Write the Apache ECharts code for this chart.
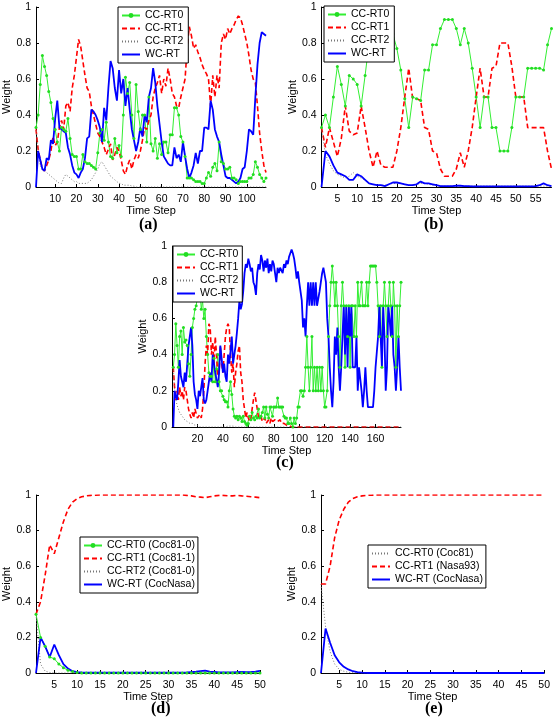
<!DOCTYPE html>
<html><head><meta charset="utf-8">
<script src="https://cdn.jsdelivr.net/npm/echarts@6/dist/echarts.min.js"></script>
<style>html,body{margin:0;padding:0;background:#fff}#c{width:553px;height:718px}</style>
</head><body><div id="c"></div>
<script>
// ---------- Panel (a) ----------
const aTicks = [10,20,30,40,50,60,70,80,90,100];
const aRT0 = [0.33,0.40,0.57,0.73,0.67,0.62,0.53,0.47,0.38,0.32,
 0.25,0.20,0.33,0.32,0.31,0.38,0.27,0.18,0.17,0.17,
 0.10,0.10,0.18,0.14,0.13,0.13,0.12,0.11,0.10,0.19,
 0.30,0.32,0.26,0.36,0.25,0.17,0.16,0.27,0.19,0.23,
 0.17,0.40,0.61,0.52,0.58,0.40,0.27,0.57,0.42,0.32,
 0.40,0.40,0.25,0.50,0.24,0.20,0.27,0.16,0.24,0.18,
 0.25,0.25,0.19,0.29,0.29,0.44,0.44,0.40,0.28,0.25,
 0.17,0.05,0.05,0.05,0.04,0.03,0.03,0.03,0.02,0.02,
 0.05,0.08,0.06,0.11,0.13,0.09,0.25,0.14,0.13,0.10,
 0.10,0.11,0.05,0.05,0.04,0.02,0.03,0.03,0.03,0.03,
 0.05,0.05,0.07,0.14,0.11,0.07,0.05,0.03,0.05];
const aRT1 = [0.32,0.21,0.15,0.10,0.09,0.12,0.15,0.20,0.28,0.23,
 0.25,0.33,0.37,0.32,0.45,0.47,0.42,0.55,0.62,0.72,
 0.82,0.78,0.70,0.62,0.55,0.53,0.45,0.40,0.35,0.30,
 0.28,0.25,0.22,0.18,0.21,0.24,0.15,0.18,0.22,0.20,
 0.15,0.09,0.07,0.12,0.15,0.10,0.15,0.18,0.16,0.20,
 0.26,0.33,0.32,0.37,0.40,0.50,0.55,0.58,0.62,0.52,
 0.60,0.56,0.66,0.60,0.52,0.50,0.45,0.44,0.50,0.55,
 0.60,0.78,0.89,0.84,0.77,0.79,0.75,0.72,0.68,0.65,
 0.63,0.60,0.45,0.62,0.50,0.62,0.55,0.80,0.85,0.82,
 0.88,0.85,0.88,0.90,0.93,0.95,0.94,0.90,0.85,0.80,
 0.73,0.65,0.60,0.58,0.45,0.30,0.20,0.12,0.08];
const aRT2 = [0.33,0.20,0.12,0.10,0.09,0.08,0.07,0.06,0.05,0.04,
 0.03,0.02,0.02,0.05,0.07,0.06,0.05,0.04,0.03,0.03,
 0.02,0.02,0.02,0.02,0.02,0.03,0.04,0.06,0.08,0.10,
 0.13,0.14,0.12,0.10,0.08,0.06,0.05,0.04,0.03,0.02,
 0.02,0.01,0.01,0.01,0.01,0.005,0.005,0,0,0,
 0,0,0,0,0,0,0,0,0,0,
 0,0,0,0,0,0,0,0,0,0,
 0,0,0,0,0,0,0,0,0,0,
 0,0,0,0,0,0,0,0,0,0,
 0,0,0,0,0,0,0,0,0,0,
 0,0,0,0,0,0,0,0,0];
const aWC = [0.00,0.20,0.15,0.10,0.09,0.16,0.15,0.26,0.24,0.38,
 0.48,0.33,0.32,0.31,0.30,0.22,0.18,0.12,0.08,0.07,
 0.05,0.08,0.10,0.16,0.27,0.28,0.43,0.42,0.40,0.37,
 0.33,0.25,0.44,0.37,0.55,0.70,0.66,0.55,0.48,0.65,
 0.52,0.60,0.45,0.55,0.43,0.32,0.26,0.20,0.25,0.33,
 0.28,0.40,0.36,0.50,0.55,0.66,0.58,0.45,0.35,0.25,
 0.17,0.15,0.13,0.12,0.12,0.22,0.16,0.18,0.14,0.25,
 0.17,0.10,0.05,0.08,0.12,0.19,0.13,0.20,0.20,0.33,
 0.33,0.32,0.48,0.43,0.32,0.28,0.25,0.18,0.12,0.06,
 0.05,0.05,0.04,0.03,0.02,0.03,0.05,0.10,0.11,0.20,
 0.32,0.31,0.29,0.50,0.68,0.80,0.86,0.85,0.84];

// ---------- Panel (b) ----------
const bTicks = [5,10,15,20,25,30,35,40,45,50,55];
const bRT0 = [0.33,0.40,0.33,0.50,0.67,0.57,0.45,0.62,0.60,0.57,
 0.45,0.62,0.80,0.84,0.86,0.87,0.87,0.86,0.85,0.77,
 0.65,0.49,0.33,0.50,0.49,0.48,0.65,0.65,0.79,0.79,
 0.88,0.93,0.93,0.93,0.88,0.79,0.88,0.80,0.66,0.50,
 0.33,0.50,0.50,0.33,0.33,0.20,0.20,0.20,0.33,0.50,
 0.50,0.50,0.66,0.66,0.66,0.66,0.65,0.79,0.88];
const bRT1 = [0.33,0.22,0.33,0.25,0.17,0.27,0.45,0.31,0.29,0.30,
 0.45,0.33,0.20,0.11,0.20,0.12,0.11,0.11,0.11,0.20,
 0.33,0.50,0.66,0.49,0.49,0.48,0.33,0.32,0.20,0.19,
 0.10,0.06,0.06,0.06,0.10,0.19,0.11,0.20,0.33,0.50,
 0.66,0.50,0.50,0.66,0.67,0.80,0.80,0.80,0.67,0.50,
 0.50,0.50,0.33,0.33,0.33,0.33,0.33,0.20,0.10];
const bRT2 = [0.33,0.18,0.13,0.09,0.07,0.06,0.05,0.06,0.08,0.06,
 0.05,0.04,0.02,0.015,0.01,0.01,0.01,0.015,0.02,0.02,
 0.02,0.015,0.01,0.01,0.015,0.02,0.02,0.015,0.01,0.01,
 0.005,0.005,0.005,0.005,0.005,0.005,0.005,0.005,0.005,0.005,
 0.005,0.005,0.005,0.005,0.005,0.005,0.005,0.005,0.005,0.005,
 0.005,0.005,0.005,0.005,0.005,0.005,0.005,0.005,0.005];
const bWC = [0.00,0.20,0.17,0.12,0.08,0.07,0.06,0.04,0.04,0.07,
 0.06,0.04,0.02,0.015,0.01,0.01,0.005,0.015,0.025,0.025,
 0.02,0.015,0.01,0.01,0.015,0.03,0.02,0.02,0.015,0.01,
 0.005,0.005,0.005,0.005,0.007,0.007,0.005,0.005,0.004,0.004,
 0.003,0.003,0.003,0.003,0.003,0.003,0.003,0.003,0.003,0.003,
 0.003,0.003,0.003,0.003,0.005,0.01,0.02,0.01,0.005];

// ---------- Panel (c) ----------
const cTicks = [20,40,60,80,100,120,140,160];
const cRT0 = [0.33,0.40,0.57,0.45,0.33,0.50,0.53,0.40,0.55,0.47,
 0.48,0.45,0.35,0.28,0.40,0.55,0.60,0.65,0.67,0.72,
 0.80,0.75,0.65,0.70,0.60,0.65,0.50,0.40,0.30,0.28,
 0.28,0.25,0.38,0.25,0.32,0.40,0.25,0.20,0.20,0.17,
 0.15,0.14,0.14,0.11,0.20,0.25,0.18,0.10,0.06,0.05,
 0.06,0.04,0.06,0.05,0.03,0.06,0.03,0.02,0.01,0.02,
 0.06,0.04,0.08,0.05,0.04,0.06,0.05,0.10,0.05,0.06,
 0.08,0.11,0.05,0.11,0.07,0.05,0.11,0.11,0.06,0.11,
 0.11,0.11,0.16,0.11,0.11,0.11,0.11,0.06,0.05,0.05,
 0.02,0.02,0.05,0.02,0.00,0.05,0.02,0.05,0.11,0.11,
 0.20,0.20,0.17,0.20,0.33,0.50,0.33,0.20,0.33,0.50,
 0.20,0.33,0.20,0.33,0.20,0.33,0.20,0.33,0.20,0.11,
 0.11,0.20,0.50,0.67,0.80,0.89,0.80,0.67,0.80,0.67,
 0.50,0.33,0.67,0.80,0.67,0.33,0.67,0.50,0.67,0.33,
 0.67,0.67,0.50,0.67,0.50,0.80,0.67,0.67,0.80,0.67,
 0.67,0.67,0.80,0.67,0.80,0.89,0.89,0.89,0.89,0.89,
 0.80,0.67,0.50,0.67,0.33,0.67,0.80,0.67,0.50,0.67,
 0.80,0.67,0.50,0.80,0.67,0.33,0.67,0.50,0.67,0.80];
const cRT1 = [0.33,0.22,0.15,0.20,0.15,0.22,0.17,0.20,0.15,0.22,
 0.20,0.15,0.10,0.07,0.05,0.08,0.05,0.10,0.09,0.05,
 0.05,0.07,0.05,0.10,0.20,0.35,0.45,0.40,0.57,0.55,
 0.40,0.47,0.35,0.50,0.40,0.28,0.30,0.45,0.35,0.30,
 0.40,0.50,0.55,0.57,0.55,0.40,0.30,0.35,0.22,0.30,
 0.35,0.42,0.45,0.30,0.25,0.15,0.10,0.05,0.08,0.05,
 0.03,0.05,0.10,0.15,0.19,0.18,0.10,0.05,0.04,0.06,
 0.03,0.04,0.05,0.02,0.03,0.04,0.02,0.05,0.03,0.02,
 0.04,0.05,0.03,0.02,0.04,0.02,0.01,0.02,0.01,0.01,
 0,0.01,0,0,0,0,0,0,0,0,
 0,0,0,0,0,0,0,0,0,0,
 0,0,0,0,0,0,0,0,0,0,
 0,0,0,0,0,0,0,0,0,0,
 0,0,0,0,0,0,0,0,0,0,
 0,0,0,0,0,0,0,0,0,0,
 0,0,0,0,0,0,0,0,0,0,
 0,0,0,0,0,0,0,0,0,0,
 0,0,0,0,0,0,0,0,0,0];
const cRT2 = [0.33,0.20,0.15,0.12,0.10,0.08,0.07,0.06,0.05,0.04,
 0.04,0.03,0.03,0.02,0.02,0.02,0.01,0.01,0.01,0.01,
 0.005,0,0,0,0,0,0,0,0,0,
 0,0,0,0,0,0,0,0,0,0,
 0,0,0,0.005,0.005,0.005,0.005,0.005,0,0,
 0,0,0,0,0,0,0,0,0,0,
 0,0,0,0,0,0,0,0,0,0,
 0,0,0,0,0,0,0,0,0,0,
 0,0,0,0,0,0,0,0,0,0,
 0,0,0,0,0,0,0,0,0,0,
 0,0,0,0,0,0,0,0,0,0,
 0,0,0,0,0,0,0,0,0,0,
 0,0,0,0,0,0,0,0,0,0,
 0,0,0,0,0,0,0,0,0,0,
 0,0,0,0,0,0,0,0,0,0,
 0,0,0,0,0,0,0,0,0,0,
 0,0,0,0,0,0,0,0,0,0,
 0,0,0,0,0,0,0,0,0,0];
const cWC = [0.00,0.20,0.17,0.15,0.25,0.37,0.28,0.25,0.22,0.30,
 0.25,0.35,0.45,0.50,0.55,0.45,0.25,0.18,0.15,0.10,
 0.20,0.17,0.22,0.27,0.15,0.13,0.15,0.20,0.25,0.30,
 0.25,0.40,0.35,0.30,0.26,0.22,0.30,0.45,0.38,0.30,
 0.35,0.28,0.25,0.40,0.35,0.42,0.50,0.35,0.40,0.45,
 0.52,0.60,0.70,0.65,0.68,0.75,0.85,0.90,0.88,0.93,
 0.90,0.86,0.88,0.80,0.78,0.73,0.85,0.90,0.87,0.95,
 0.92,0.86,0.92,0.88,0.93,0.85,0.90,0.86,0.92,0.90,
 0.85,0.80,0.88,0.85,0.88,0.88,0.85,0.90,0.88,0.92,
 0.90,0.94,0.96,0.98,0.96,0.93,0.88,0.82,0.86,0.80,
 0.80,0.70,0.55,0.60,0.50,0.67,0.80,0.67,0.80,0.67,
 0.80,0.67,0.80,0.67,0.67,0.75,0.80,0.85,0.88,0.88,
 0.80,0.60,0.50,0.33,0.20,0.11,0.25,0.50,0.40,0.55,
 0.33,0.20,0.33,0.50,0.67,0.40,0.67,0.33,0.67,0.50,
 0.67,0.33,0.33,0.33,0.50,0.20,0.33,0.33,0.20,0.11,
 0.20,0.33,0.20,0.11,0.11,0.11,0.11,0.11,0.20,0.33,
 0.33,0.50,0.67,0.50,0.33,0.67,0.50,0.20,0.33,0.67,
 0.60,0.50,0.67,0.40,0.33,0.20,0.33,0.50,0.33,0.20];

// ---------- Panel (d) ----------
const dTicks = [5,10,15,20,25,30,35,40,45,50];
const dRT0 = [0.33,0.20,0.15,0.09,0.08,0.05,0.03,0.015,0.008,0.003,
 0,0,0,0,0,0,0,0,0,0,
 0,0,0,0,0,0,0,0,0,0,
 0,0,0,0,0,0,0,0,0,0,
 0,0,0,0,0,0,0,0,0,0];
const dRT1 = [0.33,0.40,0.55,0.72,0.67,0.76,0.85,0.92,0.96,0.98,
 0.99,0.995,0.998,0.999,1,1,1,1,1,1,
 1,1,1,1,1,1,1,1,1,1,
 1,1,1,0.998,0.995,0.99,0.988,0.985,0.99,0.995,
 0.998,0.998,0.995,0.995,0.998,0.995,0.993,0.99,0.988,0.985];
const dRT2 = [0.33,0.05,0.01,0.003,0,0,0,0,0,0,
 0,0,0,0,0,0,0,0,0,0,
 0,0,0,0,0,0,0,0,0,0,
 0,0,0,0,0,0,0,0,0,0,
 0,0,0,0,0,0,0,0,0,0];
const dWC = [0,0.20,0.15,0.09,0.16,0.10,0.05,0.025,0.01,0.005,
 0.003,0.002,0.002,0.002,0.002,0.002,0.002,0.002,0.002,0.002,
 0.002,0.002,0.002,0.002,0.002,0.002,0.002,0.002,0.002,0.002,
 0.002,0.002,0.002,0.003,0.005,0.007,0.01,0.013,0.008,0.006,
 0.004,0.003,0.003,0.004,0.005,0.006,0.005,0.006,0.008,0.012];

// ---------- Panel (e) ----------
const eTicks = [5,10,15,20,25,30,35,40,45,50];
const eRT0 = [0.5,0.26,0.12,0.05,0.02,0.01,0.004,0.002,0.001,0,
 0,0,0,0,0,0,0,0,0,0,
 0,0,0,0,0,0,0,0,0,0,
 0,0,0,0,0,0,0,0,0,0,
 0,0,0,0,0,0,0,0,0,0];
const eRT1 = [0.5,0.50,0.60,0.76,0.86,0.92,0.96,0.98,0.99,0.995,
 0.998,0.999,1,1,1,1,1,1,1,1,
 1,1,1,1,1,1,1,1,1,1,
 1,1,1,1,1,1,1,1,1,1,
 1,1,1,1,1,1,1,1,1,1];
const eWC = [0,0.25,0.17,0.10,0.06,0.035,0.02,0.01,0.005,0.002,
 0.001,0,0,0,0,0,0,0,0,0,
 0,0,0,0,0,0,0,0,0,0,
 0,0,0,0,0,0,0,0,0,0,
 0,0,0,0,0,0,0,0,0,0];

const FONT = '"Liberation Sans", Arial, Helvetica, sans-serif';
const STY = {
  g: {symbol:'circle', symbolSize:3, showSymbol:true, lineStyle:{color:'#33ee33', width:1}, itemStyle:{color:'#22dd22'}},
  r: {symbol:'none', lineStyle:{color:'#ff0000', width:1.6, type:[5,3]}, itemStyle:{color:'#ff0000'}},
  k: {symbol:'none', lineStyle:{color:'#777777', width:1, type:[1,2]}, itemStyle:{color:'#777777'}},
  b: {symbol:'none', lineStyle:{color:'#0000ff', width:1.8}, itemStyle:{color:'#0000ff'}}
};

const panels = [
  {lab:'(a)', grid:{left:36, top:7, width:230, height:180}, xmin:1, xmax:109, ticks:aTicks, yGap:21,
   series:[['CC-RT0',aRT0,'g'],['CC-RT1',aRT1,'r'],['CC-RT2',aRT2,'k'],['WC-RT',aWC,'b']],
   legend:{left:118, top:7, pr:5}, labPos:[151,226]},
  {lab:'(b)', grid:{left:321.5, top:7, width:230, height:180}, xmin:1, xmax:59, ticks:bTicks, yGap:22,
   series:[['CC-RT0',bRT0,'g'],['CC-RT1',bRT1,'r'],['CC-RT2',bRT2,'k'],['WC-RT',bWC,'b']],
   legend:{left:324, top:6, pr:5}, labPos:[436,226]},
  {lab:'(c)', grid:{left:172, top:246, width:229, height:181}, xmin:0, xmax:180, ticks:cTicks, yGap:24,
   series:[['CC-RT0',cRT0,'g'],['CC-RT1',cRT1,'r'],['CC-RT2',cRT2,'k'],['WC-RT',cWC,'b']],
   legend:{left:173, top:246, pr:4}, labPos:[288,464]},
  {lab:'(d)', grid:{left:36, top:495, width:224, height:178}, xmin:1, xmax:50, ticks:dTicks, yGap:20,
   series:[['CC-RT0 (Coc81-0)',dRT0,'g'],['CC-RT1 (Coc81-1)',dRT1,'r'],['CC-RT2 (Coc81-0)',dRT2,'k'],['WC-RT (CocNasa)',dWC,'b']],
   legend:{left:80, top:537, pr:3}, labPos:[163,710]},
  {lab:'(e)', grid:{left:321, top:495, width:226, height:178}, xmin:1, xmax:50, ticks:eTicks, yGap:22,
   series:[['CC-RT0 (Coc81)',eRT0,'k'],['CC-RT1 (Nasa93)',eRT1,'r'],['WC-RT (CocNasa)',eWC,'b']],
   legend:{left:368, top:545, pr:3}, labPos:[437,710]}
];

const option = {animation:false, backgroundColor:'#fff', grid:[], xAxis:[], yAxis:[], series:[], legend:[], graphic:[]};
panels.forEach((p, gi) => {
  option.grid.push(Object.assign({containLabel:false}, p.grid));
  option.xAxis.push({
    type:'value', gridIndex:gi, min:p.xmin, max:p.xmax,
    name:'Time Step', nameLocation:'middle', nameGap:16,
    nameTextStyle:{fontSize:11, fontFamily:FONT, color:'#000'},
    axisLine:{show:true, onZero:false, lineStyle:{color:'#000', width:1}},
    axisTick:{show:true, inside:true, length:3, customValues:p.ticks, lineStyle:{color:'#000'}},
    axisLabel:{show:true, customValues:p.ticks, fontSize:10.5, fontFamily:FONT, color:'#000', margin:7},
    splitLine:{show:false}
  });
  option.yAxis.push({
    type:'value', gridIndex:gi, min:0, max:1, interval:0.2,
    name:'Weight', nameLocation:'middle', nameGap:p.yGap,
    nameTextStyle:{fontSize:11, fontFamily:FONT, color:'#000'},
    axisLine:{show:true, lineStyle:{color:'#000', width:1}},
    axisTick:{show:true, inside:true, length:3, lineStyle:{color:'#000'}},
    axisLabel:{show:true, fontSize:10.5, fontFamily:FONT, color:'#000', margin:5},
    splitLine:{show:false}
  });
  const items = [];
  p.series.forEach(([name, arr, st]) => {
    items.push(st === 'g' ? {name:name, itemStyle:{color:'#22dd22'}} : {name:name, itemStyle:{opacity:0}});
    option.series.push(Object.assign({
      type:'line', name:name, xAxisIndex:gi, yAxisIndex:gi,
      data: arr.map((v, i) => [i + 1, v]),
      silent:true, emphasis:{disabled:true}, clip:true
    }, JSON.parse(JSON.stringify(STY[st]))));
  });
  option.legend.push({
    show:true, orient:'vertical', left:p.legend.left, top:p.legend.top, data:items,
    itemWidth:18, itemHeight:6, itemGap:2, padding:[3,p.legend.pr,3,3],
    borderColor:'#000', borderWidth:1, backgroundColor:'#fff', borderRadius:0,
    selectedMode:false,
    textStyle:{fontSize:10.5, fontFamily:FONT, color:'#000', lineHeight:11}
  });
  option.graphic.push({
    type:'text', left:p.labPos[0] - 12, top:p.labPos[1] - 9,
    style:{text:p.lab, font:'bold 16px "Liberation Serif", "Times New Roman", serif', fill:'#000'}
  });
});

const chart = echarts.init(document.getElementById('c'), null, {renderer:'canvas'});
chart.setOption(option);
</script>
</body></html>
